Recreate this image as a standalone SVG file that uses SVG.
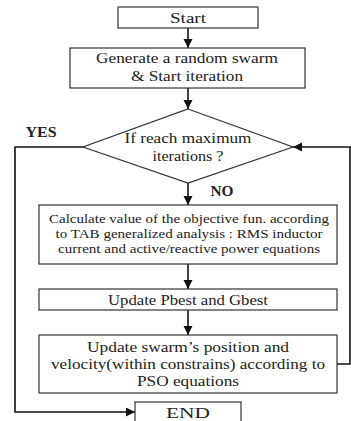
<svg xmlns="http://www.w3.org/2000/svg" width="351" height="421" viewBox="0 0 351 421">
<style>
text{font-family:"Times New Roman","Liberation Serif",Tinos,"Noto Serif","DejaVu Serif",serif}
.box{fill:#fff;stroke:#333;stroke-width:1.2}
.t{font-size:15px;fill:#222;text-anchor:middle}
.s{font-size:12.5px}
.b{font-weight:bold;font-size:14px}
.c{fill:none;stroke:#111;stroke-width:1.6}
</style>
<defs>
<marker id="ah" markerUnits="userSpaceOnUse" markerWidth="10" markerHeight="10" refX="9" refY="4.5" orient="auto">
<path d="M0,0 L9,4.5 L0,9 z" fill="#111"/>
</marker>
</defs>
<rect width="351" height="421" fill="#fff"/>
<g id="connectors">
<line class="c" x1="188" y1="28" x2="188" y2="48" marker-end="url(#ah)"/>
<line class="c" x1="188" y1="88" x2="188" y2="109" marker-end="url(#ah)"/>
<line class="c" x1="188" y1="183" x2="188" y2="205" marker-end="url(#ah)"/>
<line class="c" x1="188" y1="264" x2="188" y2="289" marker-end="url(#ah)"/>
<line class="c" x1="188" y1="310" x2="188" y2="335" marker-end="url(#ah)"/>
<polyline class="c" points="83,147 15,147 15,412 135,412" marker-end="url(#ah)"/>
<polyline class="c" points="337,364 350,364 350,147 293,147" marker-end="url(#ah)"/>
<text class="t b" x="41" y="137" textLength="31" lengthAdjust="spacingAndGlyphs">YES</text>
<text class="t b" x="222" y="196" textLength="23" lengthAdjust="spacingAndGlyphs">NO</text>
</g>
<g id="start">
<rect class="box" x="118" y="7" width="140" height="21"/>
<text class="t" x="188" y="23" textLength="36" lengthAdjust="spacingAndGlyphs">Start</text>
</g>
<g id="generate">
<rect class="box" x="70" y="48" width="235" height="40"/>
<text class="t" x="187" y="63" textLength="182" lengthAdjust="spacingAndGlyphs">Generate a random swarm</text>
<text class="t" x="187" y="81" textLength="112" lengthAdjust="spacingAndGlyphs">&amp; Start iteration</text>
</g>
<g id="decision">
<polygon class="box" points="188,109 293,147 188,183 83,147"/>
<text class="t" x="188" y="143" textLength="127" lengthAdjust="spacingAndGlyphs">If reach maximum</text>
<text class="t" x="188" y="161" textLength="71" lengthAdjust="spacingAndGlyphs">iterations ?</text>
</g>
<g id="calculate">
<rect class="box" x="39" y="205" width="298" height="59"/>
<text class="t s" x="189" y="223" textLength="280" lengthAdjust="spacingAndGlyphs">Calculate value of the objective fun. according</text>
<text class="t s" x="189" y="238" textLength="267" lengthAdjust="spacingAndGlyphs">to TAB generalized analysis : RMS inductor</text>
<text class="t s" x="189" y="253" textLength="262" lengthAdjust="spacingAndGlyphs">current and active/reactive power equations</text>
</g>
<g id="pbest">
<rect class="box" x="39" y="289" width="298" height="21"/>
<text class="t" x="188" y="305" textLength="160" lengthAdjust="spacingAndGlyphs">Update Pbest and Gbest</text>
</g>
<g id="swarm">
<rect class="box" x="39" y="335" width="298" height="58"/>
<text class="t" x="188" y="352" textLength="202" lengthAdjust="spacingAndGlyphs">Update swarm’s position and</text>
<text class="t" x="188" y="369" textLength="274" lengthAdjust="spacingAndGlyphs">velocity(within constrains) according to</text>
<text class="t" x="188" y="386" textLength="102" lengthAdjust="spacingAndGlyphs">PSO equations</text>
</g>
<g id="end">
<rect class="box" x="135" y="402" width="106" height="22"/>
<text class="t" x="188" y="418" textLength="44" lengthAdjust="spacingAndGlyphs">END</text>
</g>
</svg>
